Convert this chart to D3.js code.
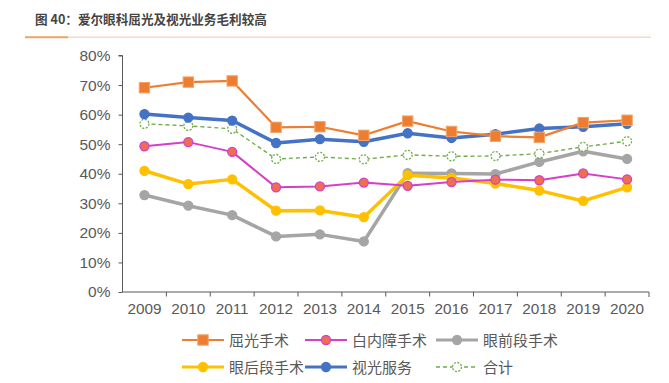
<!DOCTYPE html>
<html><head><meta charset="utf-8">
<script src="https://cdn.jsdelivr.net/npm/d3@7"></script>
<style>
body{margin:0;background:#fff;}
svg{display:block;font-family:"Noto Sans CJK SC","Liberation Sans",Arial,sans-serif;}
</style></head>
<body><svg id="c" width="669" height="383"></svg>
<script>
const years = ["2009","2010","2011","2012","2013","2014","2015","2016","2017","2018","2019","2020"];
const yTicks = [0,0.1,0.2,0.3,0.4,0.5,0.6,0.7,0.8];
const quguang = [0.691,0.710,0.714,0.557,0.559,0.530,0.578,0.543,0.527,0.523,0.573,0.581];
const baineizhang = [0.493,0.507,0.474,0.354,0.357,0.370,0.359,0.372,0.380,0.378,0.401,0.381];
const yanqianduan = [0.328,0.292,0.260,0.188,0.195,0.171,0.402,0.401,0.399,0.440,0.476,0.450];
const yanhouduan = [0.410,0.365,0.381,0.275,0.276,0.253,0.395,0.386,0.367,0.343,0.308,0.354];
const shiguang = [0.602,0.590,0.580,0.504,0.517,0.508,0.537,0.521,0.534,0.553,0.559,0.569];
const heji = [0.569,0.562,0.552,0.450,0.457,0.449,0.464,0.459,0.460,0.468,0.491,0.510];

const series = [
  {name:"屈光手术", data:quguang, color:"#ED7D31", w:2.2, marker:"square", mfill:"#ED7D31", mstroke:"#F4A36B", r:5.2},
  {name:"白内障手术", data:baineizhang, color:"#D63FC8", w:2, marker:"circle", mfill:"#EE6F4F", mstroke:"#D63FC8", r:4.5},
  {name:"眼前段手术", data:yanqianduan, color:"#A5A5A5", w:3.5, marker:"circle", mfill:"#A5A5A5", mstroke:"#A5A5A5", r:4.5},
  {name:"眼后段手术", data:yanhouduan, color:"#FFC000", w:3.5, marker:"circle", mfill:"#FFC000", mstroke:"#FFC000", r:4.5},
  {name:"视光服务", data:shiguang, color:"#4472C4", w:3.5, marker:"circle", mfill:"#4472C4", mstroke:"#4472C4", r:4.5},
  {name:"合计", data:heji, color:"#70AD47", w:1.4, dash:"4,3", marker:"circle", mfill:"#fff", mstroke:"#70AD47", r:4.5, mdash:"2,1.5"}
];
const drawOrder = [2,3,1,5,4,0];

const svg = d3.select("#c");
svg.append("text").attr("x",35).attr("y",24).attr("font-size",12.6).attr("font-weight","bold")
  .attr("fill","#444").text("图 40：爱尔眼科屈光及视光业务毛利较高");
svg.append("line").attr("x1",25).attr("x2",651).attr("y1",37.3).attr("y2",37.3).attr("stroke","#F3DCC2").attr("stroke-width",1.5);
svg.append("line").attr("x1",25).attr("x2",68).attr("y1",37.3).attr("y2",37.3).attr("stroke","#E9A66A").attr("stroke-width",2);

const x = d3.scaleBand().domain(years).range([122.5,649]);
const y = d3.scaleLinear().domain([0,0.8]).range([292,55.5]);
const cx = d => x(d)+x.bandwidth()/2;

const ya = svg.append("g").attr("transform","translate(122.5,0)")
  .call(d3.axisLeft(y).tickValues(yTicks).tickFormat(d3.format(".0%")).tickSize(4).tickPadding(8));
ya.select(".domain").attr("stroke","#595959").attr("d","M-4,55.5H0V292");
ya.selectAll(".tick line").attr("stroke","#595959");
ya.selectAll("text").attr("font-size",15.5).attr("fill","#595959").attr("font-family","Liberation Sans,Arial,sans-serif");

const xa = svg.append("g").attr("transform","translate(0,292)")
  .call(d3.axisBottom(x).tickSize(0).tickPadding(11));
xa.select(".domain").attr("stroke","#595959").attr("d","M122.5,0H649V5");
xa.selectAll("text").attr("font-size",15.3).attr("fill","#595959").attr("font-family","Liberation Sans,Arial,sans-serif");
svg.append("g").selectAll("line").data(years.slice(1)).join("line")
  .attr("x1",d=>x(d)).attr("x2",d=>x(d)).attr("y1",292).attr("y2",296.5)
  .attr("stroke","#595959");

const line = d3.line().x((d,i)=>cx(years[i])).y(d=>y(d));

function marker(g, s, px, py){
  if(s.marker==="square"){
    g.append("rect").attr("x",px-s.r).attr("y",py-s.r).attr("width",2*s.r).attr("height",2*s.r)
      .attr("fill",s.mfill).attr("stroke",s.mstroke).attr("stroke-width",1);
  } else {
    g.append("circle").attr("cx",px).attr("cy",py).attr("r",s.r)
      .attr("fill",s.mfill).attr("stroke",s.mstroke).attr("stroke-width",1.3)
      .attr("stroke-dasharray",s.mdash||null);
  }
}

drawOrder.forEach(k=>{
  const s = series[k];
  const g = svg.append("g");
  g.append("path").attr("d",line(s.data)).attr("fill","none").attr("stroke",s.color)
    .attr("stroke-width",s.w).attr("stroke-dasharray",s.dash||null).attr("stroke-linejoin","round");
  s.data.forEach((v,i)=>marker(g,s,cx(years[i]),y(v)));
});

const legX = [182,305,436];
const legY = [340,367];
series.forEach((s,i)=>{
  const lx = legX[i%3], ly = legY[Math.floor(i/3)];
  const g = svg.append("g");
  g.append("line").attr("x1",lx).attr("x2",lx+42).attr("y1",ly).attr("y2",ly)
    .attr("stroke",s.color).attr("stroke-width",Math.min(s.w,3)).attr("stroke-dasharray",s.dash||null);
  marker(g,s,lx+21,ly);
  g.append("text").attr("x",lx+47).attr("y",ly+5.5).attr("font-size",15).attr("fill","#595959").text(s.name);
});
</script></body></html>
